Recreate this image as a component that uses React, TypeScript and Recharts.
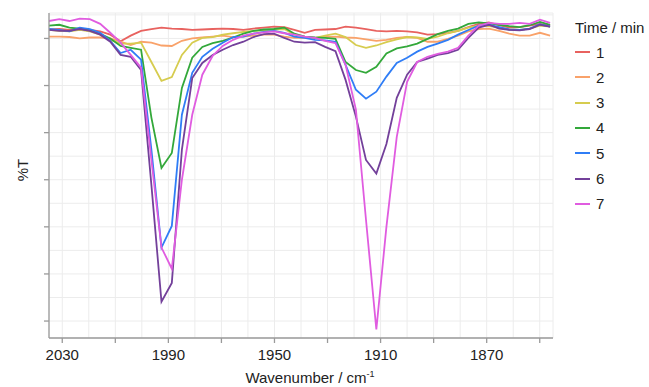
import React from 'react';
import { LineChart, Line, XAxis, YAxis, CartesianGrid } from 'recharts';

// wavenumber (cm-1) of each sample, high -> low
const wavenumber = [
  2035.0, 2031.1, 2027.3, 2023.4, 2019.6, 2015.7, 2011.9, 2008.0, 2004.2, 2000.3,
  1996.4, 1992.6, 1988.7, 1984.9, 1981.0, 1977.2, 1973.3, 1969.5, 1965.6, 1961.7,
  1957.9, 1954.0, 1950.2, 1946.3, 1942.5, 1938.6, 1934.7, 1930.9, 1927.0, 1923.2,
  1919.3, 1915.5, 1911.6, 1907.8, 1903.9, 1900.0, 1896.2, 1892.3, 1888.5, 1884.6,
  1880.8, 1876.9, 1873.0, 1869.2, 1865.3, 1861.5, 1857.6, 1853.8, 1849.9, 1846.1,
];

// %T (arbitrary offset) per time point
const t1 = [
  61.9, 62.0, 61.8, 62.1, 61.8, 61.5, 60.8, 59.4, 60.6, 61.6,
  62.0, 62.3, 62.1, 62.0, 61.8, 61.9, 62.0, 62.1, 62.0, 61.8,
  62.1, 62.3, 62.5, 62.4, 61.8, 61.2, 61.8, 61.9, 62.0, 62.5,
  62.3, 62.0, 61.6, 61.5, 61.6, 61.5, 61.3, 60.8, 60.9, 61.2,
  61.6, 62.4, 63.1, 63.4, 62.8, 62.3, 62.4, 62.7, 63.1, 62.7,
];
const t2 = [
  60.4, 60.4, 60.3, 60.0, 60.2, 60.2, 60.0, 59.3, 58.6, 59.3,
  59.1, 58.5, 58.4, 59.5, 60.0, 60.2, 60.4, 60.6, 60.3, 60.4,
  60.6, 60.8, 60.8, 60.4, 60.1, 60.1, 60.1, 60.3, 60.4, 60.2,
  60.1, 59.8, 59.5, 59.7, 60.1, 60.3, 60.1, 59.3, 59.3, 59.9,
  60.6, 61.5, 62.0, 62.1, 61.6, 61.0, 60.6, 60.6, 61.2, 60.6,
];
const t3 = [
  61.8, 61.6, 61.5, 61.8, 61.5, 60.8, 59.7, 58.9, 58.9, 59.1,
  55.0, 51.0, 51.8, 56.5, 59.1, 60.1, 60.3, 60.8, 61.1, 61.4,
  61.6, 61.7, 61.9, 62.0, 60.8, 60.4, 60.1, 60.6, 61.0, 60.3,
  58.6, 58.0, 58.5, 59.2, 59.8, 60.3, 60.2, 59.9, 60.4, 61.1,
  61.6, 62.3, 62.7, 62.6, 62.3, 61.9, 61.8, 62.1, 62.7, 62.5,
];
const t4 = [
  62.7, 62.9, 62.3, 62.1, 61.7, 61.0, 60.0, 58.4, 58.0, 57.6,
  43.2, 32.5, 35.7, 49.5, 55.9, 58.2, 59.0, 59.5, 60.2, 61.0,
  61.6, 61.9, 62.0, 62.3, 61.0, 60.4, 60.2, 60.1, 59.9, 55.0,
  53.3, 52.7, 54.0, 56.8, 57.9, 58.3, 58.9, 59.9, 60.9, 61.6,
  62.1, 63.1, 63.4, 63.2, 62.9, 62.6, 62.4, 62.8, 63.5, 62.9,
];
const t5 = [
  62.0, 61.8, 61.5, 62.3, 62.0, 61.2, 59.5, 56.9, 57.6, 55.5,
  36.4, 15.6, 20.2, 43.8, 52.7, 56.1, 57.8, 59.1, 60.3, 60.4,
  61.0, 61.4, 61.6, 61.2, 60.4, 60.1, 59.7, 59.6, 59.3, 54.4,
  49.1, 47.2, 48.7, 51.9, 54.8, 55.9, 57.2, 58.2, 58.9, 59.7,
  60.8, 61.8, 62.7, 62.9, 62.4, 61.9, 61.8, 62.1, 63.0, 62.5,
];
const t6 = [
  61.8, 61.6, 61.6, 62.0, 61.6, 60.8, 59.3, 56.5, 56.1, 53.3,
  28.9, 4.1, 8.1, 36.4, 51.6, 54.8, 56.5, 57.6, 58.6, 59.3,
  60.3, 60.9, 61.0, 60.1, 59.3, 59.1, 59.2, 58.2, 57.3, 51.2,
  43.4, 34.2, 31.3, 37.6, 47.4, 52.3, 55.0, 55.7, 56.5, 56.9,
  57.6, 60.1, 62.3, 62.9, 62.1, 61.8, 61.7, 62.0, 62.9, 62.5,
];
const t7 = [
  63.7, 64.1, 63.7, 64.2, 64.1, 63.1, 61.2, 59.1, 56.5, 53.8,
  34.2, 15.6, 11.1, 30.0, 43.8, 52.3, 56.3, 58.4, 59.7, 60.6,
  61.0, 61.3, 61.5, 61.1, 60.8, 60.4, 60.1, 59.5, 59.0, 54.4,
  44.9, 21.5, -1.8, 20.0, 39.1, 50.8, 55.0, 56.1, 56.7, 57.2,
  58.0, 60.6, 62.7, 63.3, 63.1, 63.1, 63.3, 63.1, 64.0, 63.3,
];

const seriesKeys = ['t1', 't2', 't3', 't4', 't5', 't6', 't7'];
const seriesNames = ['1', '2', '3', '4', '5', '6', '7'];
const seriesColors = ['#e8625f', '#f9a26a', '#d6cc4f', '#33a83a', '#2f7df6', '#73409a', '#e05ce0'];
const seriesValues = [t1, t2, t3, t4, t5, t6, t7];

const xGridTicks = [2030, 2020, 2010, 2000, 1990, 1980, 1970, 1960, 1950, 1940, 1930, 1920, 1910, 1900, 1890, 1880, 1870, 1860, 1850];
const xMarkTicks = [2030, 2010, 1990, 1970, 1950, 1930, 1910, 1890, 1870, 1850];
const xLabelTicks = [2030, 1990, 1950, 1910, 1870];
const yGridTicks = [0, 5, 10, 15, 20, 25, 30, 35, 40, 45, 50, 55, 60, 65];
const yMarkTicks = [0, 10, 20, 30, 40, 50, 60];

const data = wavenumber.map((w, i) => {
  const row: Record<string, number> = { w };
  seriesKeys.forEach((k, j) => { row[k] = seriesValues[j][i]; });
  return row;
});

const FONT = '"Liberation Sans", Arial, sans-serif';
const AXIS = '#9a9a9a';
const TEXT = '#222';
const TICK_SIZE = 5;
const TICK_MARGIN = 4;

const XTick = (props: any) => {
  const { x, y, payload } = props;
  const v = payload.value;
  const axisY = y - TICK_SIZE - TICK_MARGIN;
  return (
    <g>
      {xMarkTicks.includes(v) && (
        <line x1={x} x2={x} y1={axisY} y2={axisY + TICK_SIZE} stroke={AXIS} strokeWidth={1.3} />
      )}
      {xLabelTicks.includes(v) && (
        <text x={x} y={axisY + 22} textAnchor="middle" fill={TEXT} fontSize={15} fontFamily={FONT}>
          {v}
        </text>
      )}
    </g>
  );
};

const YTick = (props: any) => {
  const { x, y, payload } = props;
  const axisX = x + TICK_SIZE + TICK_MARGIN;
  if (!yMarkTicks.includes(payload.value)) return <g />;
  return <line x1={axisX - TICK_SIZE} x2={axisX} y1={y} y2={y} stroke={AXIS} strokeWidth={1.3} />;
};

export default function App() {
  return (
    <div style={{ position: 'absolute', left: 0, top: 0, width: 649, height: 387, fontFamily: FONT, color: TEXT }}>
      <LineChart width={649} height={387} data={data} margin={{ top: 13, right: 96, bottom: 0, left: 0 }}>
        <CartesianGrid stroke="#ececec" strokeWidth={1} />
        <XAxis
          dataKey="w"
          type="number"
          domain={[1845, 2035]}
          reversed
          allowDataOverflow
          ticks={xGridTicks}
          interval={0}
          height={49}
          tickSize={TICK_SIZE}
          tickMargin={TICK_MARGIN}
          tickLine={false}
          tick={<XTick />}
          axisLine={{ stroke: AXIS, strokeWidth: 1.3 }}
        />
        <YAxis
          type="number"
          domain={[-3.6, 65.4]}
          allowDataOverflow
          ticks={yGridTicks}
          interval={0}
          width={49}
          tickSize={TICK_SIZE}
          tickMargin={TICK_MARGIN}
          tickLine={false}
          tick={<YTick />}
          axisLine={{ stroke: AXIS, strokeWidth: 1.3 }}
        />
        {seriesKeys.map((k, i) => (
          <Line
            key={k}
            type="linear"
            dataKey={k}
            name={seriesNames[i]}
            stroke={seriesColors[i]}
            strokeWidth={1.8}
            dot={false}
            isAnimationActive={false}
          />
        ))}
      </LineChart>

      {/* axis titles */}
      <div style={{ position: 'absolute', left: 22, top: 170, transform: 'translate(-50%, -50%) rotate(-90deg)', fontSize: 15, whiteSpace: 'nowrap' }}>
        %T
      </div>
      <div style={{ position: 'absolute', left: 310, top: 369, transform: 'translateX(-50%)', fontSize: 15, whiteSpace: 'nowrap', lineHeight: '17px' }}>
        Wavenumber / cm<sup style={{ fontSize: 9, verticalAlign: 'top', lineHeight: '10px' }}>-1</sup>
      </div>

      {/* legend */}
      <div style={{ position: 'absolute', left: 575, top: 19, fontSize: 15, lineHeight: '17px', whiteSpace: 'nowrap' }}>
        Time / min
      </div>
      {seriesNames.map((n, i) => (
        <div key={n} style={{ position: 'absolute', left: 575, top: 52 + i * 25.33 - 8.5, height: 17, display: 'flex', alignItems: 'center', fontSize: 15, lineHeight: '17px' }}>
          <span style={{ display: 'inline-block', width: 15, height: 2, background: seriesColors[i], marginRight: 6 }} />
          <span>{n}</span>
        </div>
      ))}
    </div>
  );
}
